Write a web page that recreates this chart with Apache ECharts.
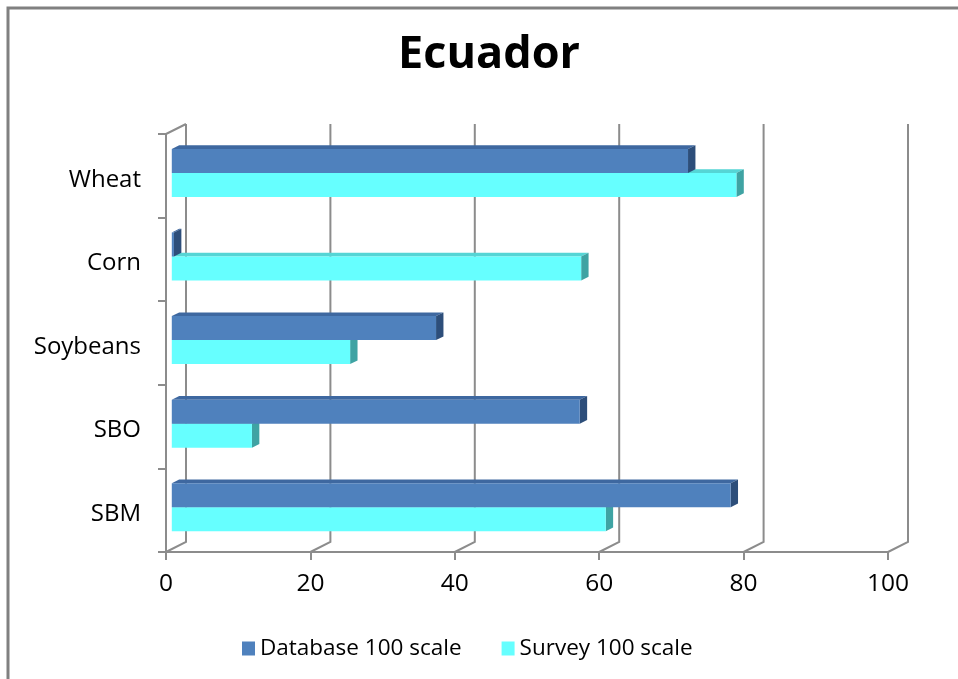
<!DOCTYPE html>
<html>
<head>
<meta charset="utf-8">
<script src="https://cdn.jsdelivr.net/npm/echarts@6/dist/echarts.min.js"></script>
<style>
html,body{margin:0;padding:0;background:#fff;}
#chart{width:958px;height:679px;}
</style>
</head>
<body>
<div id="chart"></div>
<script>
const categories = ['Wheat', 'Corn', 'Soybeans', 'SBO', 'SBM'];
const databaseValues = [71.5, 0.3, 36.6, 56.5, 77.4];
const surveyValues = [78.2, 56.7, 24.7, 11.1, 60.1];
const xTicks = [0, 20, 40, 60, 80, 100];
const seriesNames = ['Database 100 scale', 'Survey 100 scale'];

const DX = 20, DY = -10;          // depth vector of the 3D box
const F0 = 0.29, FD = 0.37;       // bar front position and depth (fraction of depth)
const BAR_RATIO = 0.287;          // bar thickness as fraction of category band

const palettes = [
  { front: '#4F81BD', top: '#3E68A0', side: '#2D4E7A' },
  { front: '#66FFFF', top: '#55D5D5', side: '#3FA3A3' }
];

function wallRender(params, api) {
  const cs = params.coordSys;
  const v = api.value(0);
  const px = api.coord([v, 0])[0];
  const yb = cs.y + cs.height, yt = cs.y;
  const children = [{
    type: 'polyline',
    shape: { points: [[px, yb], [px + DX, yb + DY], [px + DX, yt + DY]] },
    style: { stroke: '#8C8C8C', lineWidth: 2, fill: null }
  }];
  if (v === 0) {
    children.push({
      type: 'line',
      shape: { x1: px, y1: yt, x2: px + DX, y2: yt + DY },
      style: { stroke: '#8C8C8C', lineWidth: 2 }
    });
  }
  return { type: 'group', children };
}

function makeBarRender(idx) {
  return function (params, api) {
    const val = api.value(0);
    const cat = api.value(1);
    const base = api.coord([0, cat]);
    const end = api.coord([val, cat]);
    const band = api.size([0, 1])[1];
    const h = band * BAR_RATIO;
    const ox = F0 * DX, oy = F0 * DY;
    const dx = FD * DX, dy = FD * DY;
    const xl = base[0] + ox, xr = end[0] + ox;
    const yt = (idx === 0 ? base[1] - h : base[1]) + oy;
    const yb = yt + h;
    const p = palettes[idx];
    return {
      type: 'group',
      children: [
        { type: 'polygon', shape: { points: [[xl, yt], [xr, yt], [xr + dx, yt + dy], [xl + dx, yt + dy]] },
          style: { fill: p.top } },
        { type: 'polygon', shape: { points: [[xr, yt], [xr + dx, yt + dy], [xr + dx, yb + dy], [xr, yb]] },
          style: { fill: p.side } },
        { type: 'rect', shape: { x: xl, y: yt, width: Math.max(xr - xl, 0), height: h },
          style: { fill: p.front } }
      ]
    };
  };
}

const chart = echarts.init(document.getElementById('chart'));
chart.setOption({
  animation: false,
  title: {
    text: 'Ecuador',
    left: 484,
    textAlign: 'center',
    top: 28,
    textStyle: { fontFamily: 'Open Sans', fontWeight: 'bold', fontSize: 45, color: '#000' }
  },
  graphic: [{
    type: 'rect',
    shape: { x: 8, y: 8, width: 1000, height: 1000 },
    style: { fill: null, stroke: '#808080', lineWidth: 3 },
    silent: true
  }],
  legend: {
    data: seriesNames,
    left: 237,
    top: 632,
    itemWidth: 13,
    itemHeight: 14,
    itemGap: 40,
    icon: 'rect',
    textStyle: { fontFamily: 'Open Sans', fontSize: 22.5, color: '#000' }
  },
  grid: { left: 166, right: 70, top: 134, bottom: 127, containLabel: false },
  xAxis: {
    type: 'value',
    min: 0, max: 100, interval: 20,
    axisLine: { show: true, lineStyle: { color: '#8C8C8C', width: 2 } },
    axisTick: { show: true, length: 8, lineStyle: { color: '#8C8C8C', width: 2 } },
    splitLine: { show: false },
    axisLabel: { fontFamily: 'Open Sans', fontSize: 24.5, color: '#000', margin: 20 }
  },
  yAxis: {
    type: 'category',
    data: categories,
    inverse: true,
    axisLine: { show: true, lineStyle: { color: '#8C8C8C', width: 2 } },
    axisTick: { show: true, length: 8, lineStyle: { color: '#8C8C8C', width: 2 } },
    axisLabel: {
      margin: 25,
      formatter: function (v) { return '{a|' + v + '}'; },
      rich: { a: { fontFamily: 'Open Sans', fontSize: 24, color: '#000', padding: [8, 0, 0, 0] } }
    }
  },
  series: [
    {
      type: 'custom',
      name: 'walls',
      renderItem: wallRender,
      data: xTicks.map(v => [v, 0]),
      encode: { x: 0, y: 1 },
      z: 1,
      silent: true
    },
    {
      type: 'custom',
      name: seriesNames[1],
      renderItem: makeBarRender(1),
      itemStyle: { color: palettes[1].front },
      data: surveyValues.map((v, i) => [v, i]),
      encode: { x: 0, y: 1 },
      z: 2
    },
    {
      type: 'custom',
      name: seriesNames[0],
      renderItem: makeBarRender(0),
      itemStyle: { color: palettes[0].front },
      data: databaseValues.map((v, i) => [v, i]),
      encode: { x: 0, y: 1 },
      z: 3
    }
  ]
});
</script>
</body>
</html>
